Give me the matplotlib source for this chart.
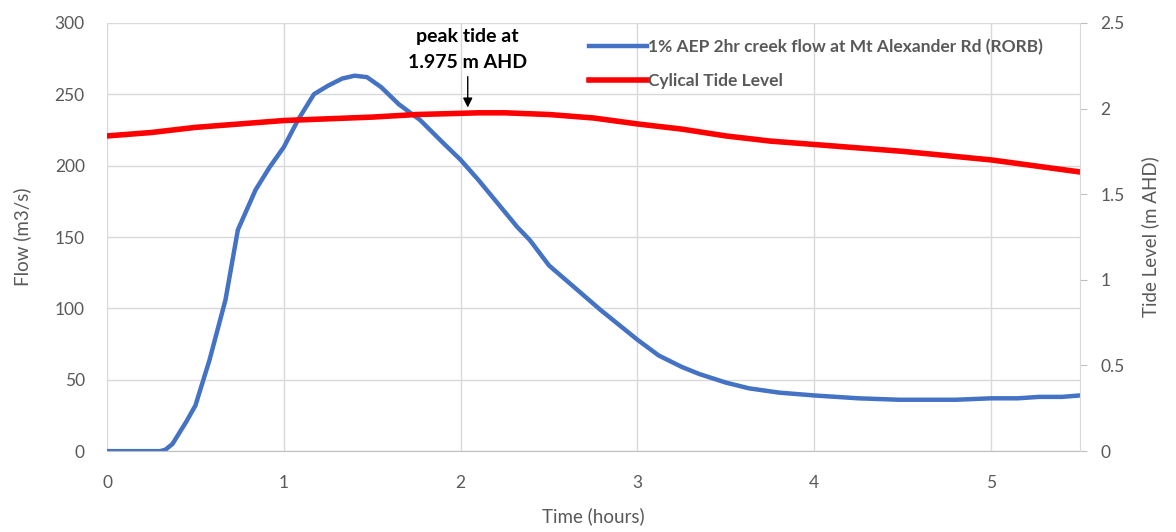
import matplotlib.pyplot as plt
import numpy as np

# flow hydrograph (hours, m3/s)
t_flow = [0, 0.1, 0.2, 0.3, 0.33, 0.37, 0.41, 0.45, 0.5, 0.58, 0.67, 0.74, 0.84, 0.92, 1.0,
          1.08, 1.17, 1.25, 1.33, 1.4, 1.47, 1.55, 1.65, 1.77, 1.9, 2.0, 2.1, 2.22, 2.32,
          2.39, 2.5, 2.65, 2.79, 2.9, 3.0, 3.12, 3.25, 3.35, 3.5, 3.63, 3.8, 4.0, 4.25,
          4.48, 4.8, 5.0, 5.15, 5.27, 5.4, 5.5]
flow = [0, 0, 0, 0, 1, 5, 13, 21, 32, 64, 106, 155, 183, 199, 213, 232, 250, 256, 261,
        263, 262, 255, 243, 232, 216, 204, 190, 172, 157, 148, 130, 114, 99, 88, 78, 67,
        59, 54, 48, 44, 41, 39, 37, 36, 36, 37, 37, 38, 38, 39]

# tide level (hours, m AHD)
t_tide = [0, 0.25, 0.5, 0.75, 1.0, 1.25, 1.5, 1.75, 2.0, 2.1, 2.25, 2.5, 2.75, 3.0,
          3.25, 3.5, 3.75, 4.0, 4.25, 4.5, 4.75, 5.0, 5.25, 5.5]
tide = [1.84, 1.86, 1.89, 1.91, 1.93, 1.94, 1.95, 1.965, 1.972, 1.975, 1.975, 1.965,
        1.945, 1.91, 1.88, 1.84, 1.81, 1.79, 1.77, 1.75, 1.725, 1.70, 1.665, 1.63]

grey = '#595959'
plt.rcParams['font.family'] = ['Lato', 'DejaVu Sans']

fig = plt.figure(figsize=(11.76, 5.32), dpi=100)
ax = fig.add_axes([0.091, 0.152, 0.827, 0.805])
ax2 = ax.twinx()

l1, = ax.plot(t_flow, flow, color='#4472C4', lw=3.2, label='1% AEP 2hr creek flow at Mt Alexander Rd (RORB)')
l2, = ax2.plot(t_tide, tide, color='#FF0000', lw=4, label='Cylical Tide Level')

ax.set_xlim(0, 5.5)
ax.set_ylim(0, 300)
ax2.set_ylim(0, 2.5)
ax.set_xticks(np.arange(0, 6, 1))
ax.set_yticks(np.arange(0, 301, 50))
ax2.set_yticks([0, 0.5, 1, 1.5, 2, 2.5])
ax2.set_yticklabels(['0', '0.5', '1', '1.5', '2', '2.5'])
ax.grid(True, color='#d9d9d9', lw=1)
ax.set_axisbelow(True)

for a in (ax, ax2):
    for s in a.spines.values():
        s.set_visible(False)
ax.spines['bottom'].set_visible(True)
ax.spines['bottom'].set_color('#bfbfbf')
ax2.spines['right'].set_visible(True)
ax2.spines['right'].set_color('#d9d9d9')

ax.tick_params(axis='x', length=0, labelsize=12.5, labelcolor=grey, pad=17)
ax.tick_params(axis='y', length=0, labelsize=12.5, labelcolor=grey, pad=16)
ax2.tick_params(axis='y', length=5, color='#bfbfbf', labelsize=12.5, labelcolor=grey, pad=10)

ax.set_xlabel('Time (hours)', fontsize=13.5, color=grey, labelpad=12)
ax.set_ylabel('Flow (m3/s)', fontsize=13.5, color=grey, labelpad=17)
ax2.set_ylabel('Tide Level (m AHD)', fontsize=13.5, color=grey, labelpad=12)

ax2.annotate('peak tide at\n1.975 m AHD', xy=(2.04, 1.99), xytext=(2.04, 2.47),
             ha='center', va='top', fontsize=14, fontweight='bold', color='black',
             linespacing=1.65,
             arrowprops=dict(arrowstyle='-|>', color='black', lw=1, mutation_scale=14))

leg = ax2.legend(handles=[l1, l2], loc='upper left', bbox_to_anchor=(0.48, 1.0),
                 frameon=False, fontsize=12.5, handlelength=3.3, handletextpad=0.1,
                 labelspacing=1.05)
for txt in leg.get_texts():
    txt.set_color(grey)
    txt.set_fontweight('bold')

fig.savefig('out.png', dpi=100)
